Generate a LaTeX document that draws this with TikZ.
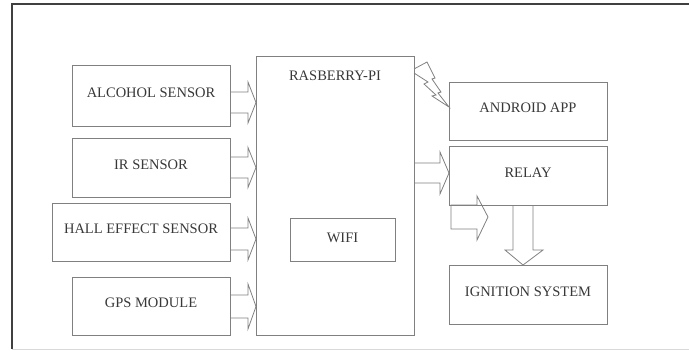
\documentclass[tikz,border=0pt]{standalone}
\usepackage{fontspec}
\setmainfont{Liberation Serif}
\begin{document}
\begin{tikzpicture}[x=1pt,y=-1pt,
  box/.style={draw=black!50,line width=0.8pt,rectangle,inner sep=0pt,outer sep=0pt},
  txt/.style={inner sep=0pt,text=black!78,font=\fontsize{14.5}{16}\selectfont},
  arr/.style={draw=black!50,line width=0.8pt,line join=miter},
  frame/.style={draw=black!75,line width=1.6pt}]
\useasboundingbox (0,0) rectangle (689,351);
% outer frame
\draw[frame] (12,349) -- (12,4) -- (689,4);
\draw[draw=black!15,line width=0.8pt] (12,349.5) -- (689,349.5);
% boxes
\node[box,minimum width=158pt,minimum height=61pt] (alc) at (151,95.5) {};
\node[box,minimum width=158pt,minimum height=59pt] (ir) at (151,167.5) {};
\node[box,minimum width=178pt,minimum height=58pt] (hall) at (141,232) {};
\node[box,minimum width=158pt,minimum height=58pt] (gps) at (151,306) {};
\node[box,minimum width=158pt,minimum height=279pt] (pi) at (335,195.5) {};
\node[box,minimum width=105pt,minimum height=43pt] (wifi) at (342.5,239.5) {};
\node[box,minimum width=158pt,minimum height=58pt] (app) at (528,111) {};
\node[box,minimum width=158pt,minimum height=59pt] (relay) at (528,175.5) {};
\node[box,minimum width=158pt,minimum height=59pt] (ign) at (528,294.5) {};
% texts
\node[txt] (talc) at ([yshift=3pt]alc.center) {ALCOHOL SENSOR};
\node[txt] (tir) at ([yshift=3pt]ir.center) {IR SENSOR};
\node[txt] (thall) at ([yshift=3pt]hall.center) {HALL EFFECT SENSOR};
\node[txt] (tgps) at ([yshift=3pt]gps.center) {GPS MODULE};
\node[txt] (tpi) at (335,76) {RASBERRY-PI};
\node[txt] (twifi) at ([yshift=2pt]wifi.center) {WIFI};
\node[txt] (tapp) at ([yshift=3pt]app.center) {ANDROID APP};
\node[txt] (trelay) at (528,173) {RELAY};
\node[txt] (tign) at ([yshift=3pt]ign.center) {IGNITION SYSTEM};
% block arrows sensors -> pi
\newcommand\blockR[6]{\draw[arr] (#1,#4-#5) -- (#2,#4-#5) -- (#2,#4-#6) -- (#3,#4) -- (#2,#4+#6) -- (#2,#4+#5) -- (#1,#4+#5);}
\blockR{230}{248}{256}{102.5}{10.5}{20.5}
\blockR{230}{248}{256}{167.5}{10.5}{20}
\blockR{230}{248}{256}{239}{11}{21}
\blockR{230}{248}{256}{306.5}{11.5}{22.5}
% pi -> relay
\blockR{414}{440}{449}{173}{10}{21}
% arrow below relay
\draw[arr] (451,205) -- (477,205) -- (477,196) -- (488,217) -- (477,240) -- (477,229) -- (451,229) -- cycle;
% relay -> ignition
\draw[arr] (513,205) -- (513,250) -- (505,250) -- (523,265) -- (543,250) -- (533,250) -- (533,205);
% lightning pi -> app
\draw[arr,line join=miter] (414,69) -- (427,62) -- (435,78) -- (432,79) -- (441,92) -- (438,93) -- (449,107) -- (432,96) -- (436,95) -- (424,84) -- (428,82) -- (414,73);
\end{tikzpicture}
\end{document}
